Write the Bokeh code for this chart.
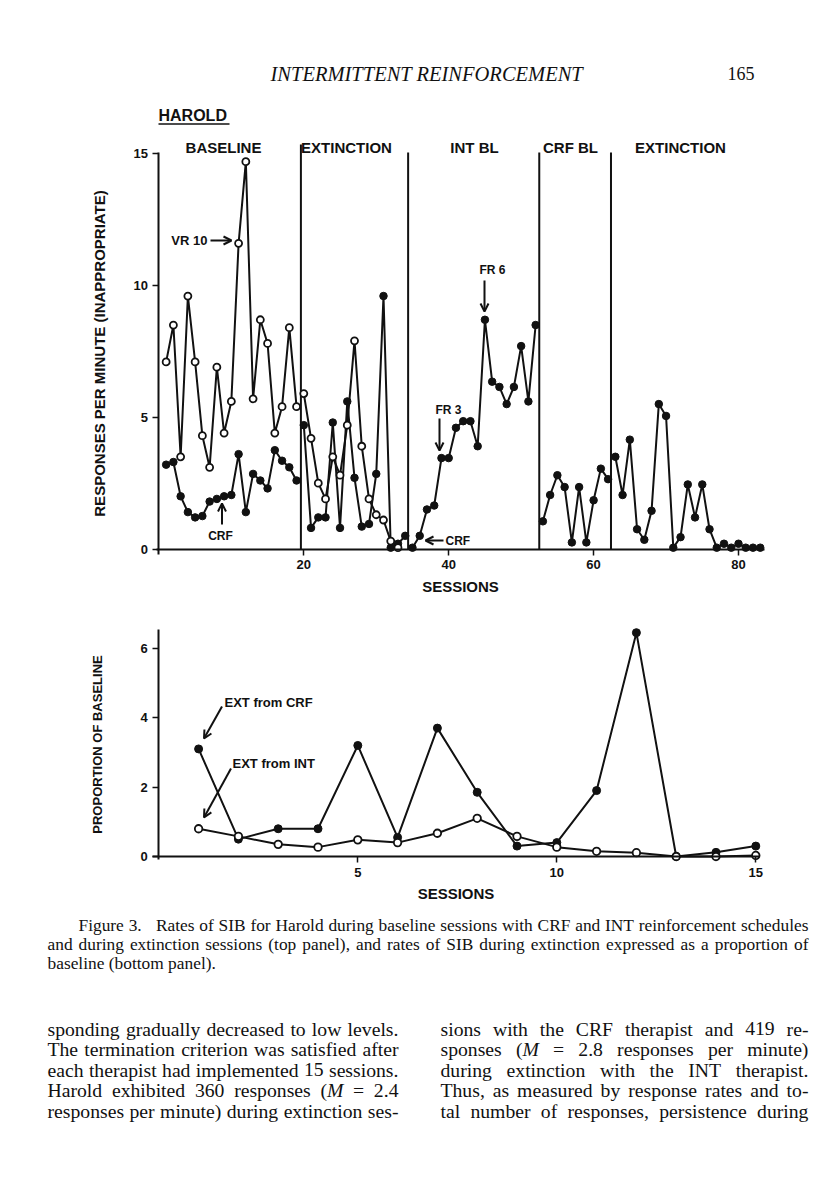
import numpy as np
from bokeh.plotting import figure
from bokeh.layouts import column
from bokeh.models import Label, Arrow, OpenHead, FixedTicker
from bokeh.embed import file_html
from bokeh.resources import INLINE

# ---------------- data ----------------
open_sessions = list(range(1, 34))
open_rate = [7.1, 8.5, 3.5, 9.6, 7.1, 4.3, 3.1, 6.9, 4.4, 5.6, 11.6, 14.7, 5.7, 8.7, 7.8, 4.4, 5.4, 8.4, 5.4,
             5.9, 4.2, 2.5, 1.9, 3.5, 2.8, 4.7, 7.9, 3.9, 1.9, 1.3, 1.1, 0.3, 0.05]
filled_sessions = list(range(1, 84))
filled_rate = [3.2, 3.3, 2.0, 1.4, 1.2, 1.25, 1.8, 1.9, 2.0, 2.05, 3.6, 1.4, 2.85, 2.6, 2.3, 3.75, 3.35, 3.1, 2.6,
               4.7, 0.8, 1.2, 1.2, 4.8, 0.8, 5.6, 2.7, 0.85, 0.95, 2.85, 9.6, 0.05, 0.2, 0.5,
               0.05, 0.5, 1.5, 1.65, 3.45, 3.45, 4.6, 4.85, 4.85, 3.9, 8.7, 6.35, 6.15, 5.5, 6.15, 7.7, 5.6, 8.5,
               1.05, 2.05, 2.8, 2.35, 0.25, 2.35, 0.25, 1.85, 3.05, 2.65,
               3.5, 2.05, 4.15, 0.75, 0.35, 1.45, 5.5, 5.05, 0.05, 0.45, 2.45, 1.2, 2.45, 0.75, 0.05, 0.2, 0.05, 0.2,
               0.05, 0.05, 0.05]
phase_bounds = [19.6, 34.4, 52.5, 62.4]
phase_tops = [15.35, 15.05, 15.05, 15.05]
phase_names = ["BASELINE", "EXTINCTION", "INT BL", "CRF BL", "EXTINCTION"]
top_xticks = [20, 40, 60, 80]
top_yticks = [0, 5, 10, 15]

ext_sessions = list(range(1, 16))
ext_from_crf = [3.1, 0.5, 0.8, 0.8, 3.2, 0.55, 3.7, 1.85, 0.3, 0.4, 1.9, 6.45, 0.0, 0.12, 0.3]
ext_from_int = [0.8, 0.58, 0.35, 0.27, 0.48, 0.4, 0.67, 1.1, 0.58, 0.27, 0.15, 0.11, 0.0, 0.0, 0.03]
bot_xticks = [5, 10, 15]
bot_yticks = [0, 2, 4, 6]

# *...* marks italic
caption_lines = [
    "Figure 3.   Rates of SIB for Harold during baseline sessions with CRF and INT reinforcement schedules",
    "and during extinction sessions (top panel), and rates of SIB during extinction expressed as a proportion of",
    "baseline (bottom panel).",
]
body_left = [
    "sponding gradually decreased to low levels.",
    "The termination criterion was satisfied after",
    "each therapist had implemented 15 sessions.",
    "Harold exhibited 360 responses (*M* = 2.4",
    "responses per minute) during extinction ses-",
]
body_right = [
    "sions with the CRF therapist and 419 re-",
    "sponses (*M* = 2.8 responses per minute)",
    "during extinction with the INT therapist.",
    "Thus, as measured by response rates and to-",
    "tal number of responses, persistence during",
]

SANS = "Liberation Sans"
SERIF = "Liberation Serif"
INK = "#111111"
W = 812
H_TOP = 610
H_BOT = 585

# approximate Times advance widths (1/1000 em), Liberation Serif is metric compatible
_TW = {' ': 250, '(': 333, ')': 333, ',': 250, '-': 333, '.': 250, '=': 564, ':': 278, ';': 278,
       'A': 722, 'B': 667, 'C': 667, 'D': 722, 'E': 611, 'F': 556, 'G': 722, 'H': 722, 'I': 333, 'J': 389,
       'K': 722, 'L': 611, 'M': 889, 'N': 722, 'O': 722, 'P': 556, 'Q': 722, 'R': 667, 'S': 556, 'T': 611,
       'U': 722, 'V': 722, 'W': 944, 'X': 722, 'Y': 722, 'Z': 611,
       'a': 444, 'b': 500, 'c': 444, 'd': 500, 'e': 444, 'f': 333, 'g': 500, 'h': 500, 'i': 278, 'j': 278,
       'k': 500, 'l': 278, 'm': 778, 'n': 500, 'o': 500, 'p': 500, 'q': 500, 'r': 333, 's': 389, 't': 278,
       'u': 500, 'v': 500, 'w': 722, 'x': 500, 'y': 500, 'z': 444}


def seg_width(s, italic=False):
    w = 0
    for c in s:
        if italic and c == 'M':
            w += 833
        else:
            w += _TW.get(c, 500)
    return w / 1000.0


def word_segments(tok):
    parts = tok.split('*')
    return [(t, i % 2 == 1) for i, t in enumerate(parts) if t]


def word_width(tok):
    return sum(seg_width(t, it) for t, it in word_segments(tok))


def line_items(line):
    items, gap = [], 0
    for tok in line.split(" "):
        if tok == "":
            gap += 1
            continue
        items.append((tok, gap))
        gap = 1
    return items


def natural_em(line):
    items = line_items(line)
    return sum(word_width(t) for t, _ in items) + 0.25 * sum(g for _, g in items[1:])


# page-pixel -> data helpers (text / frame placement only)
def tx(px):
    return (px - 158.4) / 7.245


def ty(py):
    return (548.5 - py) / 26.35


def bx(px):
    return (px - 158.3) / 39.8


def by(py):
    return (856.0 - py) / 34.7


def style_axes(p, xticks, yticks, ylabel_size, ylabel_standoff):
    p.grid.visible = False
    p.outline_line_color = None
    p.xaxis.fixed_location = 0
    p.yaxis.fixed_location = 0
    p.xaxis.ticker = FixedTicker(ticks=xticks)
    p.yaxis.ticker = FixedTicker(ticks=yticks)
    for ax in (p.xaxis[0], p.yaxis[0]):
        ax.axis_line_width = 2
        ax.axis_line_color = INK
        ax.major_tick_line_width = 1.5
        ax.major_tick_line_color = INK
        ax.major_tick_out = 6
        ax.major_tick_in = 0
        ax.minor_tick_out = 0
        ax.minor_tick_in = 0
        ax.major_label_text_font = SANS
        ax.major_label_text_font_style = "bold"
        ax.major_label_text_font_size = "13px"
        ax.major_label_text_color = INK
        ax.axis_label_text_font = SANS
        ax.axis_label_text_font_style = "bold"
        ax.axis_label_text_color = INK
    p.xaxis.major_label_standoff = 5
    p.yaxis.major_label_standoff = 5
    p.xaxis.axis_label = "SESSIONS"
    p.xaxis.axis_label_text_font_size = "15px"
    p.xaxis.axis_label_standoff = 5
    p.yaxis.axis_label_text_font_size = ylabel_size
    p.yaxis.axis_label_standoff = ylabel_standoff


def add_text(p, x, y, text, size="12px", font=SANS, style="bold", align="left", baseline="middle"):
    p.add_layout(Label(x=x, y=y, text=text, text_font=font, text_font_size=size, text_font_style=style,
                       text_color=INK, text_align=align, text_baseline=baseline))


def add_arrow(p, x0, y0, x1, y1):
    p.add_layout(Arrow(end=OpenHead(size=8, line_width=2, line_color=INK), x_start=x0, y_start=y0,
                       x_end=x1, y_end=y1, line_width=2, line_color=INK))


def set_paragraph(p, xmap, ymap, lines, lefts, rights, ys, size, justify_flags):
    for line, xl, xr, yy, just in zip(lines, lefts, rights, ys, justify_flags):
        items = line_items(line)
        widths = [word_width(t) * size for t, _ in items]
        gaps = sum(g for _, g in items[1:])
        space = 0.25 * size
        if just and gaps > 0:
            space = max((xr - xl - sum(widths)) / gaps, 0.15 * size)
        x = xl
        for i, (tok, g) in enumerate(items):
            if i > 0:
                x += g * space
            for seg, it in word_segments(tok):
                add_text(p, xmap(x), ymap(yy), seg, size="%.2fpx" % size, font=SERIF,
                         style="italic" if it else "normal")
                x += seg_width(seg, it) * size


def fit_size(lines, lefts, rights):
    return [(r - l) / natural_em(t) for t, l, r in zip(lines, lefts, rights)]


# ---------------- top panel (frame spans the whole canvas) ----------------
top = figure(width=W, height=H_TOP, x_range=(tx(0), tx(W)), y_range=(ty(H_TOP), ty(0)),
             output_backend="svg", toolbar_location=None,
             min_border_left=0, min_border_right=0, min_border_top=0, min_border_bottom=0)
style_axes(top, top_xticks, top_yticks, "15px", 22)
top.yaxis.axis_label = "RESPONSES PER MINUTE (INAPPROPRIATE)"
top.xaxis.bounds = (-0.35, 83.55)
top.yaxis.bounds = (-0.2, 15.05)

top.segment(x0=phase_bounds, y0=[0] * len(phase_bounds), x1=phase_bounds, y1=phase_tops,
            line_color=INK, line_width=2)

edges = [0] + phase_bounds + [1000]
os_ = np.array(open_sessions, dtype=float)
ov = np.array(open_rate)
fs = np.array(filled_sessions, dtype=float)
fv = np.array(filled_rate)
for lo, hi in zip(edges[:-1], edges[1:]):
    m = (os_ > lo) & (os_ < hi)
    if m.sum() > 1:
        top.line(os_[m], ov[m], line_color=INK, line_width=2)
    m = (fs > lo) & (fs < hi)
    if m.sum() > 1:
        top.line(fs[m], fv[m], line_color=INK, line_width=2)
top.scatter(fs, fv, marker="circle", size=7.5, fill_color=INK, line_color=INK)
top.scatter(os_, ov, marker="circle", size=7, fill_color="white", line_color=INK, line_width=1.8)

phase_centers = [tx(223), tx(346), tx(474), tx(570), tx(680)]
for xc, name in zip(phase_centers, phase_names):
    add_text(top, xc, ty(147), name, size="15px", align="center")

add_text(top, tx(207), ty(240), "VR 10", size="13px", align="right")
add_arrow(top, tx(210), ty(240), tx(231), ty(240))
add_text(top, tx(220), ty(535), "CRF", size="12px", align="center")
add_arrow(top, tx(221.5), ty(524), tx(221.5), ty(503))
add_text(top, tx(492), ty(269), "FR 6", size="12px", align="center")
add_arrow(top, tx(484), ty(280), tx(484), ty(311))
add_text(top, tx(448), ty(409), "FR 3", size="12px", align="center")
add_arrow(top, tx(439), ty(418), tx(439), ty(450))
add_arrow(top, tx(443), ty(540), tx(425), ty(540))
add_text(top, tx(445), ty(540), "CRF", size="12px", align="left")

add_text(top, tx(270), ty(73), "INTERMITTENT REINFORCEMENT", size="20.5px", font=SERIF, style="italic")
add_text(top, tx(727), ty(73), "165", size="18px", font=SERIF, style="normal")
add_text(top, tx(158), ty(115), "HAROLD", size="16px", align="left")
top.segment(x0=[tx(158)], y0=[ty(123.5)], x1=[tx(229)], y1=[ty(123.5)], line_color=INK, line_width=1.5)

# ---------------- bottom panel ----------------
Y0 = H_TOP
bot = figure(width=W, height=H_BOT, x_range=(bx(0), bx(W)), y_range=(by(Y0 + H_BOT), by(Y0)),
             output_backend="svg", toolbar_location=None,
             min_border_left=0, min_border_right=0, min_border_top=0, min_border_bottom=0)
style_axes(bot, bot_xticks, bot_yticks, "13px", 32)
bot.yaxis.axis_label = "PROPORTION OF BASELINE"
bot.xaxis.bounds = (-0.15, 15.1)
bot.yaxis.bounds = (-0.1, 6.55)

bot.line(ext_sessions, ext_from_int, line_color=INK, line_width=2)
bot.line(ext_sessions, ext_from_crf, line_color=INK, line_width=2)
bot.scatter(ext_sessions, ext_from_crf, marker="circle", size=8, fill_color=INK, line_color=INK)
bot.scatter(ext_sessions, ext_from_int, marker="circle", size=7.5, fill_color="white", line_color=INK,
            line_width=1.8)

add_text(bot, bx(224), by(702), "EXT  from CRF", size="13px", align="left")
add_arrow(bot, bx(221.5), by(706), bx(203.5), by(738))
add_text(bot, bx(232), by(763), "EXT  from INT", size="13px", align="left")
add_arrow(bot, bx(230.5), by(768), bx(203.5), by(817))

# caption (justified)
cap_left = [78, 47, 47]
cap_right = [808, 808, 808]
cap_y = [925, 944, 963]
cap_just = [True, True, False]
cf = fit_size(caption_lines[:2], cap_left[:2], cap_right[:2])
cap_size = min(cf) * 0.99
set_paragraph(bot, bx, by, caption_lines, cap_left, cap_right, cap_y, cap_size, cap_just)

# body text, two justified columns
body_y = [1028, 1048.5, 1069, 1089.5, 1110]
n = len(body_y)
col_left_x = (47, 398)
col_right_x = (440, 808)
fl = fit_size(body_left, [col_left_x[0]] * n, [col_left_x[1]] * n)
fr = fit_size(body_right, [col_right_x[0]] * n, [col_right_x[1]] * n)
body_size = min(min(fl), min(fr)) * 0.995
set_paragraph(bot, bx, by, body_left, [col_left_x[0]] * n, [col_left_x[1]] * n, body_y, body_size, [True] * n)
set_paragraph(bot, bx, by, body_right, [col_right_x[0]] * n, [col_right_x[1]] * n, body_y, body_size, [True] * n)

layout = column(top, bot, spacing=0)
open("out.html", "w").write(file_html(layout, INLINE))
